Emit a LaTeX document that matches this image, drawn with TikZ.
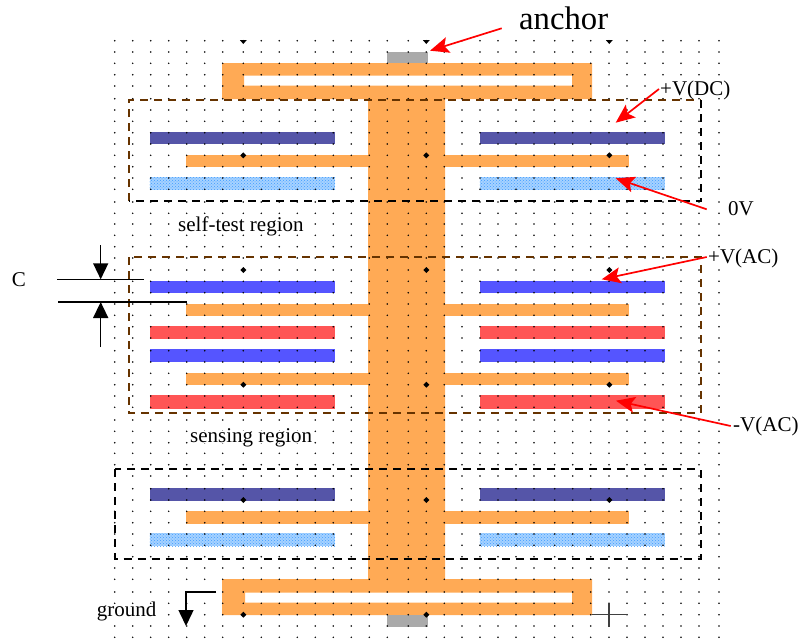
\documentclass[tikz,border=0pt]{standalone}
\usepackage{fontspec}
\setmainfont{Liberation Serif}
\usetikzlibrary{arrows.meta,patterns}
\definecolor{combcol}{HTML}{FFAA55}
\definecolor{anchorcol}{HTML}{AAAAAA}
\definecolor{dccol}{HTML}{5555A8}
\definecolor{hatchbase}{HTML}{A6D2FF}
\definecolor{hatchcol}{HTML}{3F9CFF}
\definecolor{accol}{HTML}{5555FF}
\definecolor{negcol}{HTML}{FF5555}
\definecolor{regioncol}{HTML}{663300}
\def\gridxs{114.7,132.7,150.7,168.7,186.7,204.7,222.7,243.3,261.3,279.3,297.3,315.3,333.3,351.3,369.3,387.3,408.3,426.3,444.3,462,480,498,516,534,554.7,572.7,590.7,609,627,645,663,681,699,719}
\def\gridys{40.7,52,63.3,74.7,86,98.7,110,121.3,132.7,144,155.3,166.7,178,189.3,202,213.3,224,235.3,246.7,258,270,281.3,292.7,304,315.3,326.7,338,350.7,362,373.3,384.7,396,407.3,420,431.3,442.7,453.3,464.7,476,488.7,500,511.3,522.7,534,545.3,556.7,568,579.3,592,603.3,614.7,626,637.3}
\tikzset{
  lbl/.style={anchor=base west, inner sep=0pt, fill=white, text height=11pt, text depth=1pt, font=\fontsize{21}{22}\selectfont},
  redarrow/.style={draw=red, line width=1.7pt, -{Stealth[length=19pt,width=16pt,inset=4pt]}},
  blackarrow/.style={draw=black, line width=1.5pt, -{Triangle[length=16pt,width=15pt]}},
  region/.style={line width=1.8pt, dash pattern=on 8pt off 6pt},
}
\begin{document}
\begin{tikzpicture}[x=1pt, y=-1pt]
\useasboundingbox (0,0) rectangle (801,638);

% comb frame and spine
\fill[combcol, even odd rule] (222,63) -- (592,63) -- (592,99) -- (445,99) -- (445,579) -- (592,579) -- (592,615) -- (222,615) -- (222,579) -- (368,579) -- (368,99) -- (222,99) -- cycle
  (244,75.5) rectangle (572,85.5)
  (245,592.5) rectangle (572,602.5);
\fill[anchorcol] (387,51.5) rectangle (427.5,63);
\fill[anchorcol] (387,615) rectangle (427.5,626.5);

% comb arms
\foreach \ya/\yb in {154.5/167, 303.5/316, 372.5/385, 511/523.5} {
  \fill[combcol] (186,\ya) rectangle (368,\yb);
  \fill[combcol] (445,\ya) rectangle (628.5,\yb);
}

% fixed electrodes
\foreach \ya/\yb/\col in {131.7/144.3/dccol, 488.3/501/dccol, 280.7/293.3/accol, 349.3/362.3/accol, 326/339.3/negcol, 395/409/negcol} {
  \fill[\col] (149.5,\ya) rectangle (335,\yb);
  \fill[\col] (479.5,\ya) rectangle (664.5,\yb);
}
\foreach \ya/\yb in {177.3/189.7, 533.3/546} {
  \foreach \xa/\xb in {149.5/335, 479.5/664.5} {
    \fill[hatchbase] (\xa,\ya) rectangle (\xb,\yb);
    \fill[pattern=crosshatch dots, pattern color=hatchcol] (\xa,\ya) rectangle (\xb,\yb);
  }
}

% grid
\foreach \py in \gridys {
  \foreach \px in \gridxs {
    \fill[black] (\px,\py) circle (0.85);
  }
}
\foreach \px in {243.3,426.3,609.3} {
  \fill (\px-3.5,40) -- (\px+3.5,40) -- (\px,44) -- cycle;
  \foreach \py in {155.3,270,384.7,500} {
    \fill (\px,\py-3) -- (\px+3,\py) -- (\px,\py+3) -- (\px-3,\py) -- cycle;
  }
}
\foreach \px in {243.3,426.3} {
  \fill (\px,611.7) -- (\px+3,614.7) -- (\px,617.7) -- (\px-3,614.7) -- cycle;
}

\node[lbl, font=\fontsize{32.7}{34}\selectfont, fill=none] (anchorlbl) at (519,29.3) {anchor};
\node[lbl] (dclbl) at (660,95) {+V(DC)};
\node[lbl] (zerolbl) at (728,215) {0V};
\node[lbl] (selftest) at (178,231) {self-test region};
\node[lbl] (aclbl) at (708,263.3) {+V(AC)};
\node[lbl] (cgap) at (11.7,286.7) {C};
\node[lbl] (neglbl) at (733,431.7) {-V(AC)};
\node[lbl] (sensing) at (190,442) {sensing region};
\node[lbl] (groundlbl) at (96.7,616) {ground};

% regions
\draw[region, regioncol] (129.3,201) -- (129.3,100) -- (700.7,100);
\draw[region, black] (700.7,100) -- (700.7,201) -- (129.3,201);
\draw[region, regioncol] (129.3,257.3) rectangle (700.7,413.3);
\draw[region, black] (115,469.3) rectangle (700.7,558.7);

% gap dimension
\coordinate (gaptopl) at (57,279.3);
\coordinate (gaptopr) at (144,279.3);
\coordinate (gapbotl) at (58,302);
\coordinate (gapbotr) at (187,302);
\coordinate (gaptop) at (100.7,279.3);
\coordinate (gapbot) at (100.7,302);
\coordinate (gapfrom) at (100.7,245);
\coordinate (gapto) at (100.7,347);
\draw[line width=1.5pt] (gaptopl) -- (gaptopr);
\draw[line width=1.5pt] (gapbotl) -- (gapbotr);
\draw[blackarrow] (gapfrom) -- (gaptop);
\draw[blackarrow] (gapto) -- (gapbot);

% ground symbol
\coordinate (gndstart) at (216,592);
\coordinate (gndbend) at (186,592);
\coordinate (gndtip) at (186,626);
\draw[blackarrow] (gndstart) -- (gndbend) -- (gndtip);

% cross
\coordinate (crossl) at (591.7,614.7);
\coordinate (crossr) at (628,614.7);
\coordinate (crosst) at (609.3,603);
\coordinate (crossb) at (609.3,627);
\draw[line width=1.5pt, black!75] (crossl) -- (crossr);
\draw[line width=1.8pt, black!75] (crosst) -- (crossb);

% red arrows
\coordinate (anchorfrom) at (501.7,28.3);
\coordinate (anchorto) at (430,50.7);
\coordinate (dcfrom) at (659,89);
\coordinate (dcto) at (615.7,122.7);
\coordinate (zerofrom) at (706.7,209.3);
\coordinate (zeroto) at (615.7,178.3);
\coordinate (acfrom) at (706.7,257);
\coordinate (acto) at (601.7,279.3);
\coordinate (negfrom) at (730.7,426);
\coordinate (negto) at (616,400.7);
\draw[redarrow] (anchorfrom) -- (anchorto);
\draw[redarrow] (dcfrom) -- (dcto);
\draw[redarrow] (zerofrom) -- (zeroto);
\draw[redarrow] (acfrom) -- (acto);
\draw[redarrow] (negfrom) -- (negto);
\end{tikzpicture}
\end{document}
